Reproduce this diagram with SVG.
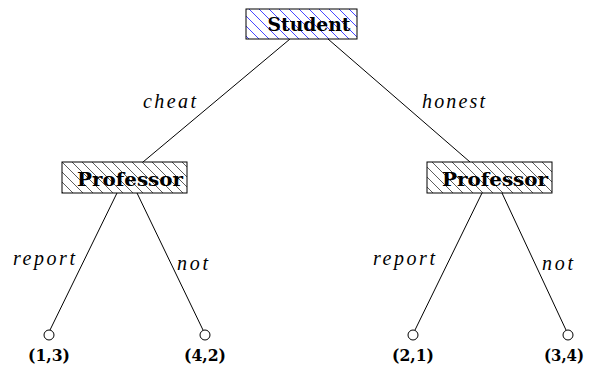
<svg xmlns="http://www.w3.org/2000/svg" width="589" height="373" viewBox="0 0 589 373">
<defs>
<pattern id="hatchBlue" patternUnits="userSpaceOnUse" width="10" height="10">
<path d="M-2,8 L2,12 M0,0 L10,10 M8,-2 L12,2" stroke="#3333ff" stroke-width="0.9"/>
</pattern>
<pattern id="hatchBlack" patternUnits="userSpaceOnUse" width="10" height="10">
<path d="M-2,8 L2,12 M0,0 L10,10 M8,-2 L12,2" stroke="#333" stroke-width="0.8"/>
</pattern>
</defs>
<style>
.box{stroke:#000;stroke-width:1}
.node{font-family:"DejaVu Serif",serif;font-weight:bold;font-size:19px;text-anchor:middle;fill:#000}
.edge{stroke:#000;stroke-width:1;fill:none}
.lbl{font-family:"Liberation Serif",serif;font-style:italic;font-size:20px;fill:#000}
.leaf{fill:#fff;stroke:#000;stroke-width:1}
.pay{font-family:"DejaVu Serif",serif;font-weight:bold;font-size:17px;text-anchor:middle;fill:#000}
</style>
<rect width="589" height="373" fill="#fff"/>
<g id="connectors">
<line class="edge" x1="290" y1="39" x2="143" y2="162"/>
<line class="edge" x1="328" y1="39" x2="470" y2="162"/>
<line class="edge" x1="117" y1="193" x2="50" y2="330"/>
<line class="edge" x1="137" y1="193" x2="203" y2="330"/>
<line class="edge" x1="482" y1="193" x2="415" y2="330"/>
<line class="edge" x1="502" y1="193" x2="566" y2="330"/>
<text class="lbl" x="143" y="108" textLength="53" lengthAdjust="spacing">cheat</text>
<text class="lbl" x="422" y="108" textLength="63" lengthAdjust="spacing">honest</text>
<text class="lbl" x="13" y="265" textLength="62" lengthAdjust="spacing">report</text>
<text class="lbl" x="177" y="270" textLength="31" lengthAdjust="spacing">not</text>
<text class="lbl" x="373" y="265" textLength="62" lengthAdjust="spacing">report</text>
<text class="lbl" x="542" y="270" textLength="31" lengthAdjust="spacing">not</text>
</g>
<g id="student">
<rect x="246" y="9" width="111" height="30" fill="#fff"/>
<rect class="box" x="246" y="9" width="111" height="30" fill="url(#hatchBlue)"/>
<text class="node" x="309" y="31" textLength="83" lengthAdjust="spacingAndGlyphs">Student</text>
</g>
<g id="professor1">
<rect x="62" y="162" width="125" height="31" fill="#fff"/>
<rect class="box" x="62" y="162" width="125" height="31" fill="url(#hatchBlack)"/>
<text class="node" x="130" y="186" textLength="106" lengthAdjust="spacingAndGlyphs">Professor</text>
</g>
<g id="professor2">
<rect x="427" y="162" width="125" height="31" fill="#fff"/>
<rect class="box" x="427" y="162" width="125" height="31" fill="url(#hatchBlack)"/>
<text class="node" x="495" y="186" textLength="106" lengthAdjust="spacingAndGlyphs">Professor</text>
</g>
<g id="leaf1">
<circle class="leaf" cx="49" cy="335" r="5"/>
<text class="pay" x="49" y="361" textLength="42" lengthAdjust="spacingAndGlyphs">(1,3)</text>
</g>
<g id="leaf2">
<circle class="leaf" cx="205" cy="335" r="5"/>
<text class="pay" x="205" y="361" textLength="42" lengthAdjust="spacingAndGlyphs">(4,2)</text>
</g>
<g id="leaf3">
<circle class="leaf" cx="413" cy="335" r="5"/>
<text class="pay" x="413" y="361" textLength="42" lengthAdjust="spacingAndGlyphs">(2,1)</text>
</g>
<g id="leaf4">
<circle class="leaf" cx="568" cy="335" r="5"/>
<text class="pay" x="564" y="361" textLength="40" lengthAdjust="spacingAndGlyphs">(3,4)</text>
</g>
</svg>
